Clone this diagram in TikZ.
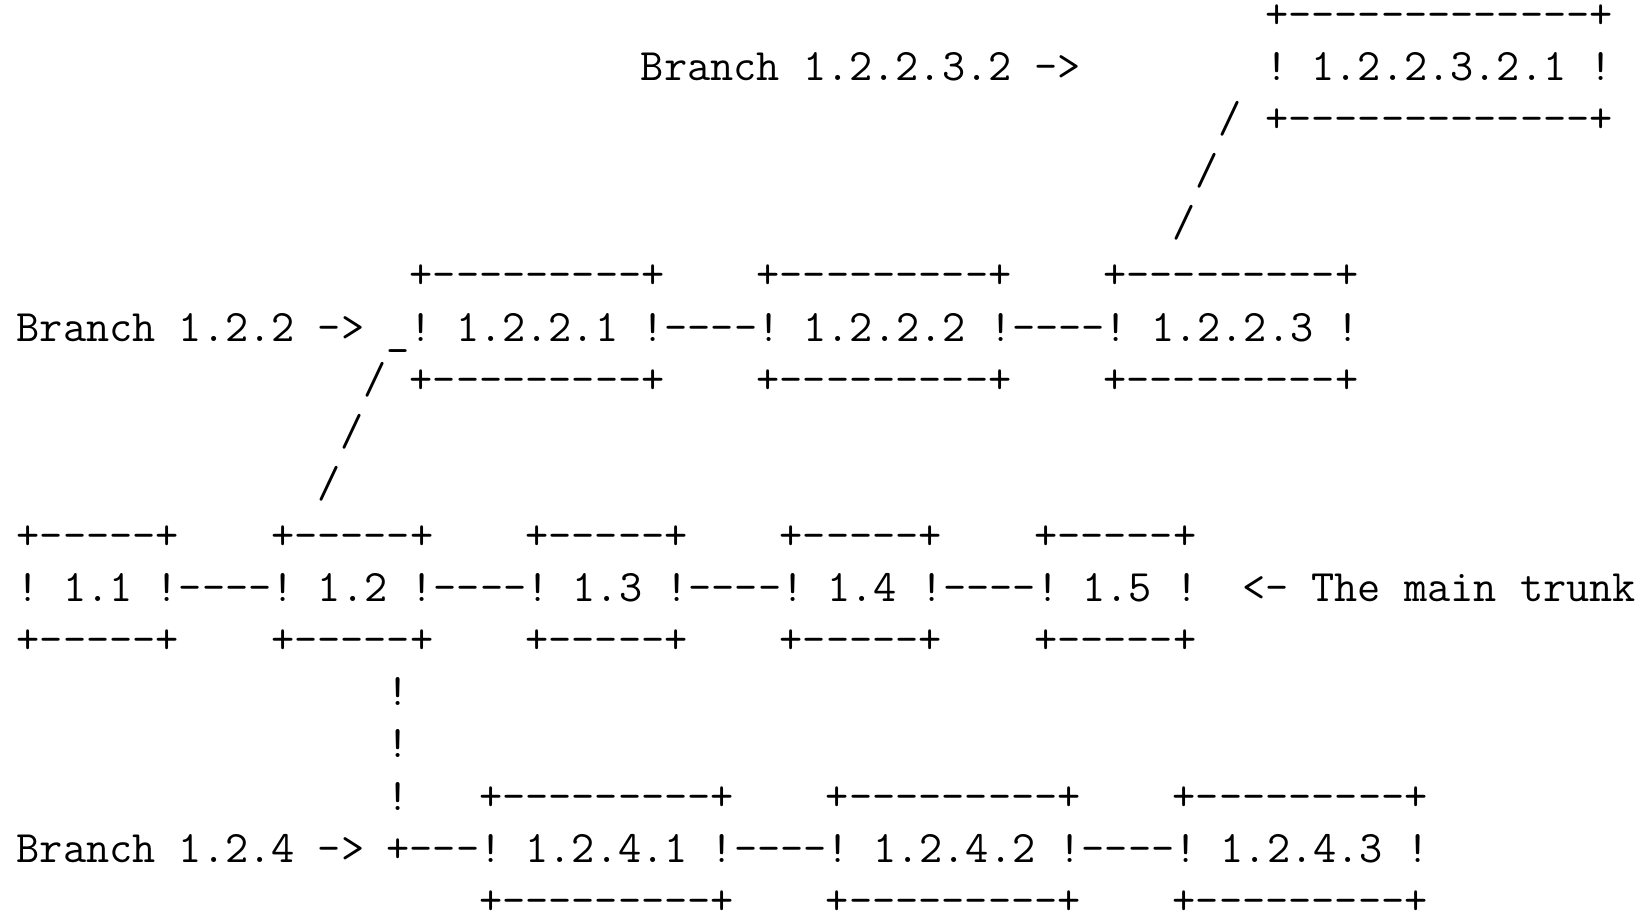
\documentclass[tikz,border=0pt]{standalone}
\usepackage{fontspec}
\frenchspacing
\tikzset{asc/.style={anchor=base west, inner sep=0pt, outer sep=0pt, font=\ttfamily\fontsize{12.8pt}{15pt}\selectfont}}

\begin{document}
\begin{tikzpicture}[x=0.2312cm, y=-0.5212cm]
\useasboundingbox (-0.167cm,0.283cm) rectangle ++(16.46cm,-9.14cm);
\node[asc] (leaftop) at (54,0) {+-------------+};
\node[asc] (lbl12232) at (27,1) {Branch 1.2.2.3.2 ->};
\node[asc] (leaf) at (54,1) {! 1.2.2.3.2.1 !};
\node[asc] (leafbot) at (54,2) {+-------------+};
\node[asc] (sa) at (52,2) {/};
\node[asc] (sb) at (51,3) {/};
\node[asc] (sc) at (50,4) {/};
\foreach \c/\n in {17/a,32/b,47/c} {
    \node[asc] (b122top\n) at (\c,5) {+---------+};
    \node[asc] (b122bot\n) at (\c,7) {+---------+};
}
\node[asc] (lbl122) at (0,6) {Branch 1.2.2 ->};
\node[asc] (b122) at (16,6) {\raisebox{-0.8pt}{\_}! 1.2.2.1 !----! 1.2.2.2 !----! 1.2.2.3 !};
\node[asc] (sd) at (15,7) {/};
\node[asc] (se) at (14,8) {/};
\node[asc] (sf) at (13,9) {/};
\foreach \c/\n in {0/a,11/b,22/c,33/d,44/e} {
    \node[asc] (trtop\n) at (\c,10) {+-----+};
    \node[asc] (trbot\n) at (\c,12) {+-----+};
}
\node[asc] (trunk) at (0,11) {! 1.1 !----! 1.2 !----! 1.3 !----! 1.4 !----! 1.5 !};
\node[asc] (lbltrunk) at (53,11) {<- The main trunk};
\foreach \r in {13,14,15} {
    \node[asc] (bar\r) at (16,\r) {!};
}
\foreach \c/\n in {20/a,35/b,50/c} {
    \node[asc] (b124top\n) at (\c,15) {+---------+};
    \node[asc] (b124bot\n) at (\c,17) {+---------+};
}
\node[asc] (lbl124) at (0,16) {Branch 1.2.4 ->};
\node[asc] (b124) at (16,16) {+---! 1.2.4.1 !----! 1.2.4.2 !----! 1.2.4.3 !};
\end{tikzpicture}
\end{document}
